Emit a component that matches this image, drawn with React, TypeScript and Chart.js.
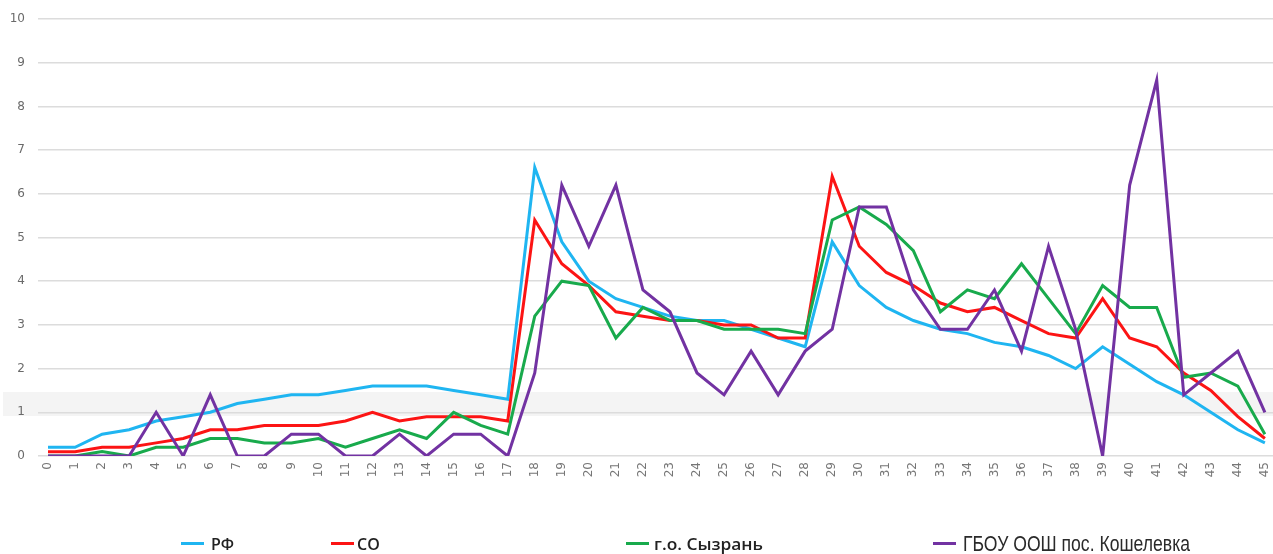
import React, { useEffect, useRef } from "react";
import { Chart, registerables } from "chart.js";

Chart.register(...registerables);

const categories: string[] = Array.from({ length: 46 }, (_, i) => String(i));

const seriesRF: number[] = [
  0.2, 0.2, 0.5, 0.6, 0.8, 0.9, 1.0, 1.2, 1.3, 1.4, 1.4, 1.5, 1.6, 1.6, 1.6, 1.5,
  1.4, 1.3, 6.6, 4.9, 4.0, 3.6, 3.4, 3.2, 3.1, 3.1, 2.9, 2.7, 2.5, 4.9, 3.9, 3.4,
  3.1, 2.9, 2.8, 2.6, 2.5, 2.3, 2.0, 2.5, 2.1, 1.7, 1.4, 1.0, 0.6, 0.3,
];

const seriesSO: number[] = [
  0.1, 0.1, 0.2, 0.2, 0.3, 0.4, 0.6, 0.6, 0.7, 0.7, 0.7, 0.8, 1.0, 0.8, 0.9, 0.9,
  0.9, 0.8, 5.4, 4.4, 3.9, 3.3, 3.2, 3.1, 3.1, 3.0, 3.0, 2.7, 2.7, 6.4, 4.8, 4.2,
  3.9, 3.5, 3.3, 3.4, 3.1, 2.8, 2.7, 3.6, 2.7, 2.5, 1.9, 1.5, 0.9, 0.4,
];

const seriesSyzran: number[] = [
  0, 0, 0.1, 0, 0.2, 0.2, 0.4, 0.4, 0.3, 0.3, 0.4, 0.2, 0.4, 0.6, 0.4, 1.0,
  0.7, 0.5, 3.2, 4.0, 3.9, 2.7, 3.4, 3.1, 3.1, 2.9, 2.9, 2.9, 2.8, 5.4, 5.7, 5.3,
  4.7, 3.3, 3.8, 3.6, 4.4, 3.6, 2.8, 3.9, 3.4, 3.4, 1.8, 1.9, 1.6, 0.5,
];

const seriesSchool: number[] = [
  0, 0, 0, 0, 1.0, 0, 1.4, 0, 0, 0.5, 0.5, 0, 0, 0.5, 0, 0.5,
  0.5, 0, 1.9, 6.2, 4.8, 6.2, 3.8, 3.3, 1.9, 1.4, 2.4, 1.4, 2.4, 2.9, 5.7, 5.7,
  3.8, 2.9, 2.9, 3.8, 2.4, 4.8, 2.9, 0, 6.2, 8.6, 1.4, 1.9, 2.4, 1.0,
];

const seriesNames: string[] = ["РФ", "СО", "г.о. Сызрань", "ГБОУ ООШ пос. Кошелевка"];
const seriesColors: string[] = ["#1fb5f1", "#fc1414", "#18aa4c", "#7232a2"];

const W = 1273;
const H = 554;

const bandPlugin = {
  id: "band",
  beforeDraw(chart: any) {
    const ctx = chart.ctx;
    ctx.save();
    ctx.fillStyle = "#f4f4f4";
    ctx.fillRect(3, 392, W - 3, 24);
    ctx.restore();
  },
};

const legendItems = [
  { line: 181, text: 211, font: "600 16px 'Open Sans'", color: "#222", fitWidth: 0 },
  { line: 331, text: 357, font: "600 16px 'Open Sans'", color: "#222", fitWidth: 0 },
  { line: 626, text: 654, font: "600 16px 'Open Sans'", color: "#222", fitWidth: 109 },
  { line: 933, text: 963, font: "400 22px 'Liberation Sans'", color: "#2a2a2a", fitWidth: 227 },
];

export default function App() {
  const ref = useRef<HTMLCanvasElement | null>(null);
  const textRefs = useRef<(HTMLDivElement | null)[]>([]);

  useEffect(() => {
    textRefs.current.forEach((el, k) => {
      if (!el) return;
      const target = legendItems[k].fitWidth;
      if (!target) return;
      el.style.transform = "translateY(-50%)";
      const w = el.getBoundingClientRect().width;
      if (w > 0) el.style.transform = `translateY(-50%) scaleX(${target / w})`;
    });
  }, []);

  useEffect(() => {
    if (!ref.current) return;
    const all = [seriesRF, seriesSO, seriesSyzran, seriesSchool];
    const chart = new Chart(ref.current, {
      type: "line",
      data: {
        datasets: all.map((vals, k) => ({
          label: seriesNames[k],
          data: vals.map((v, i) => ({ x: i, y: v })),
          borderColor: seriesColors[k],
          backgroundColor: seriesColors[k],
          borderWidth: 3,
          pointRadius: 0,
          tension: 0,
          fill: false,
          order: 3 - k,
        })),
      },
      options: {
        animation: false,
        responsive: false,
        maintainAspectRatio: false,
        layout: { padding: { top: 19, left: 0, right: 0, bottom: 0 } },
        plugins: {
          legend: { display: false },
          tooltip: { enabled: false },
          title: { display: false },
        },
        scales: {
          x: {
            type: "linear",
            min: -0.37,
            max: 45.3,
            grid: { display: false, drawTicks: false },
            border: { display: false },
            afterBuildTicks: (scale: any) => {
              scale.ticks = categories.map((_, i) => ({ value: i }));
            },
            afterFit: (scale: any) => {
              scale.height = 98;
              scale.paddingLeft = 0;
              scale.paddingRight = 0;
            },
            ticks: {
              autoSkip: false,
              minRotation: 90,
              maxRotation: 90,
              padding: 6,
              color: "#767676",
              font: { family: "DejaVu Sans", size: 12 },
              callback: (value: any) => categories[Number(value)] ?? "",
            },
          },
          y: {
            min: 0,
            max: 10,
            grid: { color: "#dcdcdc", lineWidth: 1.5, drawTicks: false },
            border: { display: false },
            afterFit: (scale: any) => {
              scale.width = 38;
              scale.paddingTop = 0;
              scale.paddingBottom = 0;
            },
            ticks: {
              stepSize: 1,
              padding: 13,
              color: "#6a6a6a",
              font: { family: "DejaVu Sans", size: 12 },
            },
          },
        },
      },
      plugins: [bandPlugin],
    });
    return () => chart.destroy();
  }, []);

  return (
    <div style={{ position: "absolute", left: 0, top: 0, width: W, height: H, overflow: "hidden", background: "#fff" }}>
      <canvas ref={ref} width={W} height={H} style={{ display: "block", width: W, height: H }} />
      {legendItems.map((it, k) => (
        <React.Fragment key={k}>
          <div
            style={{
              position: "absolute",
              left: it.line,
              top: 542,
              width: 23,
              height: 3,
              background: seriesColors[k],
            }}
          />
          <div
            ref={(el) => {
              textRefs.current[k] = el;
            }}
            style={{
              position: "absolute",
              left: it.text,
              top: 544,
              transform: "translateY(-50%)",
              transformOrigin: "0 50%",
              font: it.font,
              color: it.color,
              whiteSpace: "nowrap",
              lineHeight: 1,
            }}
          >
            {seriesNames[k]}
          </div>
        </React.Fragment>
      ))}
    </div>
  );
}
